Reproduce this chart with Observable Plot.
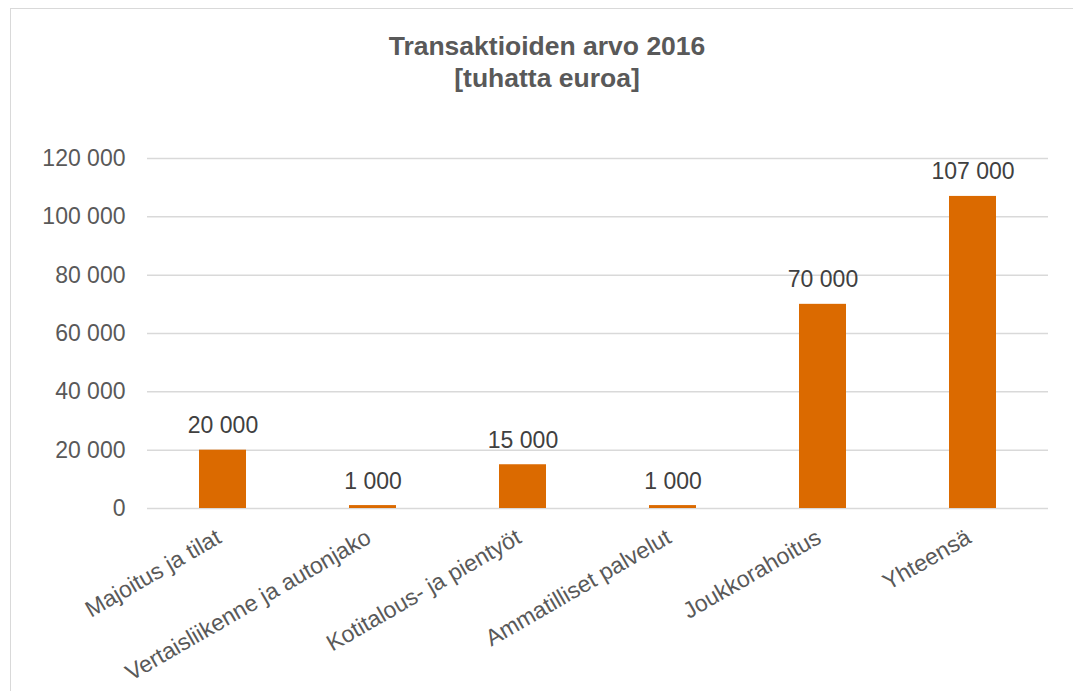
<!DOCTYPE html>
<html>
<head>
<meta charset="utf-8">
<script src="https://cdn.jsdelivr.net/npm/d3@7"></script>
<script src="https://cdn.jsdelivr.net/npm/@observablehq/plot@0.6"></script>
<style>
  html, body { margin: 0; padding: 0; background: #fff; width: 1073px; height: 691px; overflow: hidden; }
  #frame { position: absolute; left: 10px; top: 8px; width: 1080px; height: 700px; border: 1.5px solid #d9d9d9; box-sizing: border-box; }
  #title { position: absolute; left: 10px; top: 30px; width: 1074px; text-align: center; font-family: "Liberation Sans", Arial, sans-serif; font-weight: bold; font-size: 26.5px; line-height: 32px; color: #595959; }
  #chart { position: absolute; left: 0; top: 110px; }
</style>
</head>
<body>
<div id="frame"></div>
<div id="title">Transaktioiden arvo 2016<br>[tuhatta euroa]</div>
<div id="chart"></div>
<script>
const categories = ["Majoitus ja tilat", "Vertaisliikenne ja autonjako", "Kotitalous- ja pientyöt", "Ammatilliset palvelut", "Joukkorahoitus", "Yhteensä"];
const values = [20000, 1000, 15000, 1000, 70000, 107000];
const yTicks = [0, 20000, 40000, 60000, 80000, 100000, 120000];

const data = categories.map((c, i) => ({category: c, value: values[i]}));
const fmt = d3.formatLocale({thousands: " ", grouping: [3], decimal: ",", currency: ["", ""]}).format(",");

const chart = Plot.plot({
  width: 1073,
  height: 581,
  marginTop: 48,
  marginBottom: 183,
  marginLeft: 147,
  marginRight: 25,
  style: {fontFamily: '"Liberation Sans", Arial, sans-serif', background: "transparent", overflow: "visible"},
  x: {domain: categories, paddingInner: 0.687, paddingOuter: 0.3435},
  y: {domain: [0, 120000]},
  marks: [
    Plot.gridY(yTicks, {stroke: "#d9d9d9", strokeOpacity: 1, strokeWidth: 1.5}),
    Plot.axisY(yTicks, {tickSize: 0, tickPadding: 22, tickFormat: fmt, fontSize: 23, fill: "#595959", label: null}),
    Plot.axisX({tickSize: 0, tickPadding: 27, dx: -4, tickRotate: -30, fontSize: 23, fill: "#595959", label: null}),
    Plot.barY(data, {x: "category", y: "value", fill: "#DB6A00"}),
    Plot.text(data, {x: "category", y: "value", text: d => fmt(d.value), lineAnchor: "bottom", dy: -17, fontSize: 23, fill: "#404040"})
  ]
});
document.getElementById("chart").appendChild(chart);
</script>
</body>
</html>
